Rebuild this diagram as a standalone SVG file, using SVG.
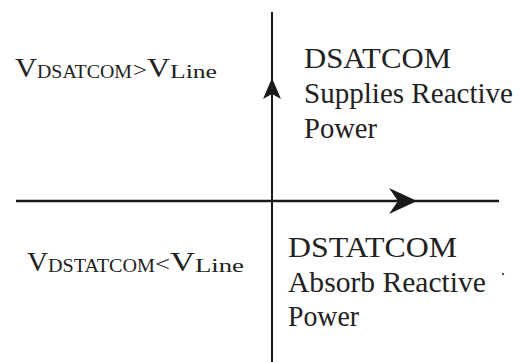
<svg xmlns="http://www.w3.org/2000/svg" width="523" height="362" viewBox="0 0 523 362">
  <style>
    .axis { stroke: #1a1a1a; fill: none; }
    .head { fill: #1a1a1a; stroke: none; }
    text { font-family: "Liberation Serif", "DejaVu Serif", "Noto Serif", Tinos, "Times New Roman", Times, FreeSerif, "Noto Serif CJK SC", Georgia, serif; fill: #222; }
    .big { font-size: 29px; }
    .v { font-size: 28px; }
    .sub { font-size: 18px; }
    .op { font-size: 22px; }
  </style>
  <rect width="523" height="362" fill="#ffffff"/>

  <!-- axes with arrowheads -->
  <g id="connectors">
    <line class="axis" x1="16" y1="201" x2="499" y2="201" stroke-width="2.5"/>
    <line class="axis" x1="272" y1="12" x2="272" y2="362" stroke-width="2"/>
    <path class="head" d="M417,201 L389,188 L398,201 L389,214 Z"/>
    <path class="head" d="M272,78 L263,99 L272,94 L281,99 Z"/>
  </g>

  <!-- upper-left condition -->
  <g id="cond-upper">
    <text class="v" x="15" y="77" textLength="22" lengthAdjust="spacingAndGlyphs">V</text>
    <text class="sub" x="37" y="78" textLength="95" lengthAdjust="spacingAndGlyphs">DSATCOM</text>
    <text class="op" x="133" y="77" textLength="14" lengthAdjust="spacingAndGlyphs">&gt;</text>
    <text class="v" x="147" y="77" textLength="23" lengthAdjust="spacingAndGlyphs">V</text>
    <text class="sub" x="170" y="78" textLength="47" lengthAdjust="spacingAndGlyphs">Line</text>
  </g>

  <!-- lower-left condition -->
  <g id="cond-lower">
    <text class="v" x="27" y="271" textLength="21" lengthAdjust="spacingAndGlyphs">V</text>
    <text class="sub" x="48" y="272" textLength="107" lengthAdjust="spacingAndGlyphs">DSTATCOM</text>
    <text class="op" x="155" y="271" textLength="15" lengthAdjust="spacingAndGlyphs">&lt;</text>
    <text class="v" x="170" y="271" textLength="25" lengthAdjust="spacingAndGlyphs">V</text>
    <text class="sub" x="195" y="272" textLength="49" lengthAdjust="spacingAndGlyphs">Line</text>
  </g>

  <!-- upper-right mode -->
  <g id="mode-supply">
    <text class="big" x="304" y="68" textLength="147" lengthAdjust="spacingAndGlyphs">DSATCOM</text>
    <text class="big" x="304" y="103" textLength="209" lengthAdjust="spacingAndGlyphs">Supplies Reactive</text>
    <text class="big" x="304" y="138" textLength="73" lengthAdjust="spacingAndGlyphs">Power</text>
  </g>

  <!-- lower-right mode -->
  <g id="mode-absorb">
    <text class="big" x="288" y="257" textLength="169" lengthAdjust="spacingAndGlyphs">DSTATCOM</text>
    <text class="big" x="288" y="292" textLength="198" lengthAdjust="spacingAndGlyphs">Absorb Reactive</text>
    <text class="big" x="288" y="326" textLength="71" lengthAdjust="spacingAndGlyphs">Power</text>
    <circle cx="503" cy="274" r="1.2" fill="#555"/>
  </g>
</svg>
